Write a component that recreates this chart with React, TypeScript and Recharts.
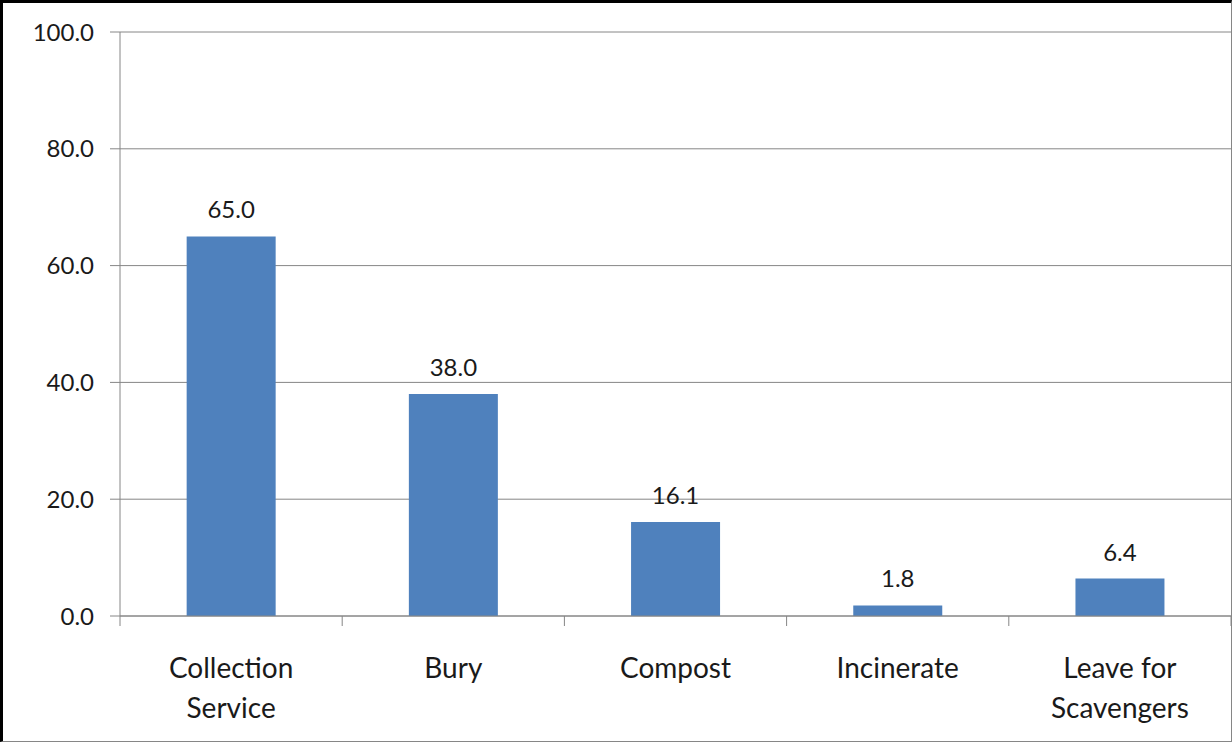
import { Bar, BarChart, CartesianGrid, LabelList, XAxis, YAxis } from 'recharts';

const categories = ['Collection Service', 'Bury', 'Compost', 'Incinerate', 'Leave for Scavengers'];
const categoryLines = [['Collection', 'Service'], ['Bury'], ['Compost'], ['Incinerate'], ['Leave for', 'Scavengers']];
const shares = [65.0, 38.0, 16.1, 1.8, 6.4];
const yTicks = [0, 20, 40, 60, 80, 100];

const data = categories.map((name, i) => ({ name, value: shares[i] }));

const FONT = 'Lato, "Open Sans", sans-serif';
const CHART_W = 1228;
const CHART_H = 738;
const LEFT = 117;
const PLOT_W = CHART_W - LEFT;
const BAND = PLOT_W / categories.length;

// x-axis ticks sit on the category boundaries, labels wrap onto two lines
function CategoryTick(props: any) {
  const { x, y, index } = props;
  const lines = categoryLines[index] || [];
  const left = x - BAND / 2;
  return (
    <g>
      <line x1={left} y1={y} x2={left} y2={y + 10} stroke="#868686" />
      {index === categories.length - 1 && (
        <line x1={left + BAND} y1={y} x2={left + BAND} y2={y + 10} stroke="#868686" />
      )}
      <text x={x} y={y} textAnchor="middle" fill="#1a1a1a" fontSize={28} fontFamily={FONT}>
        {lines.map((ln, i) => (
          <tspan key={i} x={x} dy={i === 0 ? 62 : 40}>{ln}</tspan>
        ))}
      </text>
    </g>
  );
}

export default function App() {
  return (
    <div
      style={{
        width: 1232,
        height: 742,
        boxSizing: 'border-box',
        borderTop: '3px solid #000',
        borderLeft: '3px solid #000',
        borderRight: '1px solid #868686',
        borderBottom: '1px solid #868686',
        background: '#fff',
      }}
    >
      <style>{'body{margin:0}'}</style>
      <BarChart
        width={CHART_W}
        height={CHART_H}
        data={data}
        margin={{ top: 29, right: 0, left: 0, bottom: 0 }}
        barCategoryGap="30%"
      >
        <CartesianGrid vertical={false} stroke="#868686" />
        <XAxis
          dataKey="name"
          interval={0}
          height={125}
          axisLine={{ stroke: '#868686' }}
          tickLine={false}
          tickSize={0}
          tickMargin={0}
          tick={<CategoryTick />}
        />
        <YAxis
          width={LEFT}
          domain={[0, 100]}
          ticks={yTicks}
          interval={0}
          tickSize={10}
          tickMargin={16}
          axisLine={{ stroke: '#868686' }}
          tickLine={{ stroke: '#868686' }}
          tickFormatter={(v: number) => v.toFixed(1)}
          tick={{ fill: '#1a1a1a', fontSize: 24, fontFamily: FONT }}
        />
        <Bar dataKey="value" fill="#4F81BD" isAnimationActive={false}>
          <LabelList
            dataKey="value"
            position="top"
            offset={18}
            formatter={(v: number) => v.toFixed(1)}
            fill="#1a1a1a"
            fontSize={24}
            fontFamily={FONT}
          />
        </Bar>
      </BarChart>
    </div>
  );
}
